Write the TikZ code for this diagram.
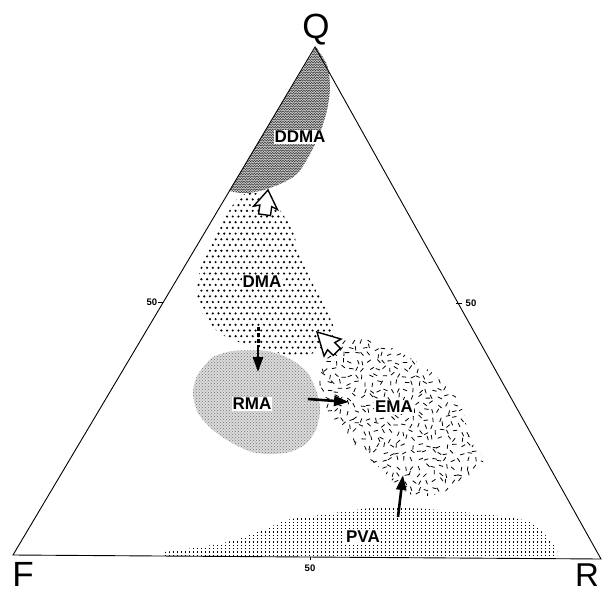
\documentclass[tikz,border=0pt]{standalone}
\usepackage{fontspec}
\setmainfont{Liberation Sans}
\usetikzlibrary{arrows.meta,decorations.pathmorphing,patterns}
\begin{document}
\begin{tikzpicture}[x=1pt,y=-1pt,
  edge/.style={line width=0.9pt},
  region label/.style={font=\fontsize{17}{17}\selectfont\bfseries, fill=white, inner sep=1pt},
  corner/.style={font=\fontsize{35}{35}\selectfont, inner sep=0pt},
  tick label/.style={font=\fontsize{9.5}{9.5}\selectfont\bfseries, inner sep=0pt},
  solidarrow/.style={line width=2.6pt, -{Triangle[length=15pt,width=10pt]}},
  hollow/.style={draw=black, fill=white, line width=1.4pt, line join=miter}
]
\useasboundingbox (0,0) rectangle (608,592);
\coordinate (Qc) at (315,47);
\coordinate (Fc) at (13,555);
\coordinate (Rc) at (601,559);

% DDMA region (herringbone)
\begin{scope}
\clip plot[smooth] coordinates {(229,191) (243,193) (260,191) (280,184) (297,174) (310,154) (320,133) (327,110) (330,87) (327,65) (316,47)} -- cycle;
\fill[gray!35] (220,40) rectangle (340,200);
\foreach \k in {0,...,60}{
  \draw[black!80, line width=0.5pt, decorate, decoration={zigzag,segment length=2.6pt,amplitude=0.9pt}] (220,{44+\k*2.6}) -- (340,{44+\k*2.6});
}
\end{scope}

% DMA region (dot grid)
\begin{scope}
\clip plot[smooth cycle] coordinates {(240,196) (255,193) (272,201) (284,216) (293,232) (299,252) (307,272) (318,294) (328,312) (334,330) (330,346) (310,354) (283,354) (258,347) (228,338) (206,320) (197,295) (200,270) (209,249) (220,227) (231,208)};
\foreach \j in {0,...,30}{
  \foreach \i in {0,...,25}{
    \fill ({190+\i*5.7+mod(\j,2)*2.85},{188+\j*5.7}) circle (1.2);
  }
}
\end{scope}

% RMA region (fine stipple)
\path[fill=black!14] plot[smooth cycle] coordinates {(213,357) (233,351) (267,351) (290,359) (307,372) (316,390) (320,408) (317,427) (307,443) (290,452) (270,454) (252,452) (232,443) (213,430) (198,413) (193,393) (197,376) (206,364)};
\path[pattern=crosshatch dots, pattern color=black!55] plot[smooth cycle] coordinates {(213,357) (233,351) (267,351) (290,359) (307,372) (316,390) (320,408) (317,427) (307,443) (290,452) (270,454) (252,452) (232,443) (213,430) (198,413) (193,393) (197,376) (206,364)};

% EMA region (random dashes)
\pgfmathsetseed{11}
\begin{scope}
\clip plot[smooth cycle] coordinates {(340,342) (357,339) (377,342) (400,352) (423,366) (441,380) (454,394) (463,411) (467,428) (472,443) (482,456) (482,467) (472,476) (457,485) (438,494) (415,496) (398,486) (382,470) (365,455) (348,438) (333,421) (323,403) (319,386) (322,369) (329,355)};
\foreach \i in {0,...,25}{
  \foreach \j in {0,...,23}{
    \pgfmathsetmacro\cx{314+\i*7+rand*2.5}
    \pgfmathsetmacro\cy{334+\j*7+rand*2.5}
    \pgfmathsetmacro\ang{rnd*180}
    \draw[line width=0.8pt] (\cx,\cy) ++(\ang:2.2) -- ++(\ang+180:4.4);
  }
}
\end{scope}

% PVA region (fine dot grid)
\begin{scope}
\clip plot[smooth] coordinates {(165,552) (223,543) (263,530) (287,520) (313,516) (340,512) (373,508) (407,508) (440,510) (473,513) (507,517) (530,522) (540,530) (550,540) (557,550)} -- (557,558) -- (165,556) -- cycle;
\foreach \j in {0,...,16}{
  \foreach \i in {0,...,98}{
    \fill ({165+\i*4},{505+\j*3.3}) rectangle +(1.3,1.3);
  }
}
\end{scope}

% triangle
\draw[edge] (Qc) -- (Fc) -- (Rc) -- cycle;
\draw[line width=0.7pt] (163,302) -- (158,302);
\draw[line width=0.7pt] (456,303) -- (462,303);
\draw[line width=0.7pt] (310,557) -- (310,560);
\node[tick label] (l50) at (152,302) {50};
\node[tick label] (r50) at (471,303) {50};
\node[tick label] (b50) at (310,568) {50};

% corner labels
\node[corner] (q) at (316,30) {Q};
\node[corner] (f) at (23,574) {F};
\node[corner, font=\fontsize{33}{33}\selectfont] (r) at (587,575) {R};

% region labels
\node[region label] (ddma) at (300,137) {DDMA};
\node[region label] (dma) at (262,282) {DMA};
\node[region label] (rma) at (252,404) {RMA};
\node[region label] (ema) at (394,407) {EMA};
\node[region label] (pva) at (363,537) {PVA};

% solid arrows
\coordinate (dmaout) at (258,327);
\coordinate (dmamid) at (258,347);
\coordinate (rmain) at (258,372);
\draw[line width=3pt, dash pattern=on 3.5pt off 2.5pt] (dmaout) -- (dmamid);
\draw[solidarrow] (dmamid) -- (rmain);
\coordinate (rmaout) at (308,399);
\coordinate (emain) at (349,402);
\draw[solidarrow] (rmaout) -- (emain);
\coordinate (pvaout) at (398,517);
\coordinate (emabot) at (403,475);
\draw[solidarrow] (pvaout) -- (emabot);

% hollow arrows
\begin{scope}[shift={(268,190)}, rotate=-8]
\draw[hollow] (0,0) -- (12,18) -- (6,16) -- (6,25) -- (-6,25) -- (-6,16) -- (-12,18) -- cycle;
\end{scope}
\begin{scope}[shift={(317,332)}, rotate=45]
\draw[hollow] (0,0) -- (12,22) -- (5,20) -- (5,28) -- (-5,28) -- (-5,20) -- (-12,22) -- cycle;
\end{scope}
\end{tikzpicture}
\end{document}
